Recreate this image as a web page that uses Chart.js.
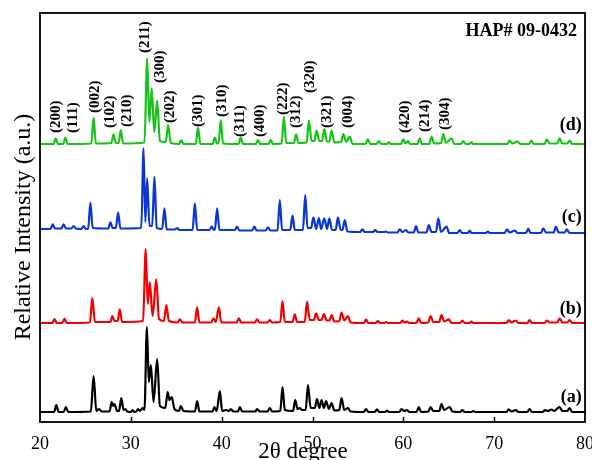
<!DOCTYPE html>
<html>
<head>
<meta charset="utf-8">
<script src="https://cdn.jsdelivr.net/npm/chart.js@4.4.4/dist/chart.umd.min.js"></script>
<style>
    html, body { margin: 0; padding: 0; background: #ffffff; }
    #wrap { width: 592px; height: 460px; position: relative; }
</style>
</head>
<body>
<div id="wrap"><canvas id="xrd"></canvas></div>
<script>
// 2θ (degree), relative counts
const traceA = [[20,10],[21.55,10],[21.8,17],[22.05,10],[22.6,10],[22.85,15],[23.1,10],[25.6,10.5],[25.9,46],[26.2,11],[26.5,13],[26.8,10.5],[27.65,10.5],[27.9,20],[28.05,16],[28.2,18],[28.5,11],[28.7,11],[28.95,24],[29.2,12],[29.4,13],[29.6,10.5],[30.0,10],[30.2,12],[30.4,10],[30.6,10.5],[30.8,13],[31.0,11],[31.3,14],[31.5,12],[31.77,95],[31.98,40],[32.2,57],[32.5,20],[32.9,63],[33.2,16],[33.8,14],[34.05,30],[34.25,22],[34.5,25],[34.8,13],[35.3,11],[35.5,16],[35.8,11],[37.05,10.5],[37.3,21],[37.55,10.5],[39.0,10.5],[39.2,15],[39.45,11],[39.8,31],[40.05,11],[40.5,12],[40.8,11],[41.0,13],[41.3,10.5],[41.8,10.5],[42.0,15],[42.25,10.5],[43.7,10.5],[43.9,13],[44.2,10.5],[45.05,10.5],[45.3,14],[45.55,10.5],[46.45,11],[46.7,35],[46.95,12],[47.85,11],[48.1,22],[48.35,13],[48.6,14],[48.85,12],[49.25,12],[49.5,37],[49.8,14],[50.25,14],[50.5,23],[50.75,14],[51.0,22],[51.25,14],[51.5,21],[51.8,13],[52.1,19],[52.4,11.5],[52.95,12],[53.2,24],[53.5,12],[53.9,14],[54.2,10.5],[55.65,10],[55.9,13],[56.15,10],[56.85,10],[57.1,12.7],[57.35,10],[58.0,10],[58.2,11.5],[58.4,10],[59.55,10],[59.8,13],[60.1,11],[60.4,12],[60.65,10],[61.45,10],[61.7,15],[61.95,10],[62.75,10.5],[63.0,15],[63.3,11],[63.95,11],[64.2,18],[64.5,12],[65.1,15],[65.4,10.5],[66.25,10],[66.5,12],[66.75,10],[67.5,10],[67.7,11],[67.9,10],[71.35,10],[71.6,12.7],[71.9,10.5],[72.4,12],[72.65,10],[73.65,10],[73.9,13],[74.15,10],[75.35,10],[75.6,12],[75.9,11],[76.3,12.5],[76.6,11],[77.2,15],[77.5,11],[78.05,11],[78.3,14],[78.6,10],[80,10]];

const traceB = [[20,99],[21.35,99],[21.6,103],[21.85,99],[22.45,99],[22.7,103.3],[22.95,99],[25.5,99.5],[25.76,124],[26.05,100],[27.75,100],[27.97,106],[28.2,101],[28.55,101],[28.78,112.7],[29.05,100],[31.35,101],[31.64,173],[31.86,118],[32.08,140],[32.4,106],[32.8,142.7],[33.1,103],[33.65,101],[33.9,117],[34.2,101],[35.15,99.5],[35.4,102.7],[35.65,99.5],[37.05,99.5],[37.3,114.7],[37.55,99.5],[38.85,99.5],[39.1,103.7],[39.35,100],[39.7,114.7],[39.95,99.5],[41.65,99.5],[41.9,103.7],[42.15,99.5],[43.65,99.5],[43.9,102.7],[44.15,99.5],[45.05,99.5],[45.3,102],[45.55,99.5],[46.45,100],[46.7,121],[46.95,100],[47.8,100],[48.05,107.7],[48.3,100],[49.15,100],[49.4,120.5],[49.7,102],[50.15,102],[50.4,108.7],[50.7,102],[51.0,102],[51.25,108],[51.55,101.5],[51.85,101.5],[52.1,107],[52.4,100.5],[52.95,101],[53.2,109.3],[53.5,101.5],[53.9,106],[54.2,99.5],[55.65,99],[55.9,102.7],[56.15,99],[56.95,99],[57.2,101],[57.45,99],[57.9,99],[58.1,100],[58.3,99],[59.65,99],[59.9,101.3],[60.15,99.5],[60.4,100.5],[60.65,99],[61.45,99],[61.7,103.7],[61.95,99],[62.75,99.5],[63.0,106],[63.3,100],[63.95,100],[64.2,107],[64.5,100.5],[65.0,102.7],[65.3,99],[66.25,99],[66.5,101.5],[66.75,99],[67.3,99],[67.5,100.5],[67.7,99],[71.35,99],[71.6,102],[71.9,99.5],[72.4,101.5],[72.65,99],[73.65,99],[73.9,102],[74.15,99],[75.55,99],[75.8,101.5],[76.1,99.5],[76.95,99.5],[77.2,103.7],[77.5,99.5],[78.05,99.5],[78.3,102],[78.6,99],[80,99]];

const traceC = [[20,193],[21.15,193],[21.4,197.7],[21.65,193.5],[22.35,193.5],[22.6,197.7],[22.85,193.5],[23.45,193.5],[23.7,196],[23.95,193.5],[24.55,193],[24.8,196],[25.05,193],[25.3,193],[25.55,219.3],[25.8,194],[27.5,193.5],[27.75,199.7],[28.0,194],[28.35,194],[28.6,209.3],[28.85,193.5],[31.15,194],[31.4,273.7],[31.6,200],[31.8,243.7],[32.05,196],[32.35,196],[32.6,245.3],[32.85,194],[33.45,193],[33.7,213.7],[33.95,192.5],[34.85,192.5],[35.1,194],[35.35,192],[36.8,192],[37.05,218.7],[37.3,192],[38.65,192],[38.9,195.3],[39.15,192],[39.25,192],[39.5,213.7],[39.75,192],[41.45,192],[41.7,195.3],[41.95,191.5],[43.35,191.5],[43.6,195.3],[43.85,191.5],[44.85,191.5],[45.1,194.7],[45.35,191.5],[46.15,191.5],[46.4,222],[46.65,192],[47.55,192],[47.8,206.3],[48.05,192],[48.95,192],[49.2,227],[49.45,194],[49.85,194],[50.1,204.7],[50.4,193],[50.7,204],[50.95,193],[51.3,203.7],[51.6,193],[51.85,203.7],[52.15,192],[52.55,192],[52.8,204.7],[53.1,192],[53.3,192],[53.55,202],[53.85,190.5],[55.25,190],[55.5,192.7],[55.75,190],[56.65,190],[56.9,192],[57.15,190],[57.9,190],[58.1,190.5],[58.3,189.5],[59.35,189.5],[59.6,192.7],[59.9,190],[60.3,192],[60.55,189.5],[61.15,189.5],[61.4,196],[61.65,189.5],[62.55,189.5],[62.8,197],[63.1,190],[63.6,190],[63.85,203.7],[64.15,190],[64.75,195.3],[65.05,189],[65.95,189],[66.2,192],[66.45,189],[67.1,189],[67.3,191.5],[67.5,189],[69.1,189],[69.3,190.5],[69.5,189],[71.15,189],[71.4,192.7],[71.7,189.5],[72.3,191.5],[72.55,189],[73.5,189],[73.75,193.3],[74.0,189],[75.15,189],[75.4,193.7],[75.7,189.5],[76.55,189.5],[76.8,195.3],[77.1,189.5],[77.75,189.5],[78.0,192.7],[78.3,189],[80,189]];

const traceD = [[20,278],[21.48,278],[21.73,283.7],[21.98,278],[22.55,278],[22.8,284.3],[23.05,278],[25.65,278.5],[25.9,304.3],[26.15,278.5],[27.85,279],[28.1,287.7],[28.35,279],[28.65,279],[28.9,292],[29.15,278.5],[31.5,279.5],[31.8,363.7],[32.03,300],[32.3,333.7],[32.58,290],[32.9,321.3],[33.2,281],[33.85,280],[34.1,297],[34.4,279],[35.3,278],[35.55,282],[35.8,278],[37.15,278],[37.4,294.3],[37.65,278],[39.0,278],[39.25,284.3],[39.5,278.5],[39.65,278.5],[39.9,302],[40.15,278.5],[41.85,278],[42.1,284.3],[42.35,278],[43.75,278],[44.0,282],[44.25,278],[45.15,278],[45.4,282],[45.65,278],[46.6,278.5],[46.85,305.3],[47.1,279],[47.95,279],[48.2,287.7],[48.45,279],[49.35,279.5],[49.6,301.3],[49.9,281],[50.2,281],[50.45,291.5],[50.75,281],[51.05,281],[51.3,293],[51.6,280.5],[51.85,280.5],[52.1,291.3],[52.4,279.5],[53.15,280],[53.4,288],[53.7,280],[54.1,285.3],[54.4,278],[55.85,278],[56.1,282.7],[56.35,278],[57.05,278],[57.3,281],[57.55,278],[58.2,278],[58.4,280],[58.6,278],[59.75,278],[60.0,282.7],[60.25,278.5],[60.5,281],[60.75,278],[61.55,278],[61.8,283.7],[62.05,278],[62.85,278],[63.1,285.3],[63.4,278.5],[64.15,279],[64.4,288],[64.7,279],[65.3,283.7],[65.6,278],[66.35,278],[66.6,281],[66.85,278],[67.3,278],[67.5,280],[67.7,278],[71.45,278],[71.7,281.3],[72.0,278.5],[72.6,280.5],[72.85,278],[73.85,278],[74.1,281.3],[74.35,278],[75.55,278],[75.8,282.7],[76.1,278.5],[76.95,278.5],[77.2,283.7],[77.5,278.5],[78.05,278.5],[78.3,281.3],[78.6,278],[80,278]];

// hkl reflections of HAP (JCPDS 09-0432), label anchor in data units
const hklText = ["(200)", "(111)", "(002)", "(102)", "(210)", "(211)", "(300)", "(202)", "(301)", "(310)", "(311)", "(400)", "(222)", "(312)", "(320)", "(321)", "(004)", "(420)", "(214)", "(304)"];
const hklAngle = [21.73, 23.7, 26.02, 27.68, 29.58, 31.53, 33.26, 34.28, 37.4, 40.09, 42.07, 44.2, 46.76, 48.24, 49.7, 51.6, 53.92, 60.17, 62.37, 64.57];
const hklLevel = [289, 289, 309, 294, 295, 369, 339, 299, 295, 305, 285, 285, 307, 294, 329, 294, 294, 289, 290, 292];

const sampleText = ["(a)", "(b)", "(c)", "(d)"];
const sampleLevel = [20.5, 108.5, 200.5, 292.5];
const sampleColor = ["#000000", "#f20000", "#0a36d4", "#17c417"];
const sampleTrace = [traceA, traceB, traceC, traceD];

const xTicks = [20, 30, 40, 50, 60, 70, 80];

const serif = "'Liberation Serif', 'Times New Roman', serif";

const annotate = {
    id: "annotate",
    afterDraw(chart) {
        const { ctx, chartArea, scales } = chart;
        const { left, right, top, bottom } = chartArea;
        ctx.save();

        // frame + inward ticks
        ctx.strokeStyle = "#000";
        ctx.lineWidth = 1.8;
        ctx.strokeRect(left, top, right - left, bottom - top);
        ctx.lineWidth = 1.5;
        xTicks.slice(1, -1).forEach(value => {
            const px = Math.round(scales.x.getPixelForValue(value)) + 0.5;
            ctx.beginPath();
            ctx.moveTo(px, bottom);
            ctx.lineTo(px, bottom - 5);
            ctx.stroke();
        });

        ctx.fillStyle = "#000";

        // hkl labels, rotated
        ctx.font = `bold 15px ${serif}`;
        ctx.textAlign = "left";
        ctx.textBaseline = "middle";
        hklText.forEach((text, i) => {
            const px = scales.x.getPixelForValue(hklAngle[i]);
            const py = scales.y.getPixelForValue(hklLevel[i]);
            ctx.save();
            ctx.translate(px, py);
            ctx.rotate(-Math.PI / 2);
            ctx.fillText(text, 0, 0);
            ctx.restore();
        });

        // sample tags
        ctx.font = `bold 18px ${serif}`;
        ctx.textAlign = "right";
        ctx.textBaseline = "alphabetic";
        sampleText.forEach((text, i) => {
            ctx.fillText(text, scales.x.getPixelForValue(79.65), scales.y.getPixelForValue(sampleLevel[i]));
        });

        ctx.font = `bold 18px ${serif}`;
        ctx.fillText("HAP# 09-0432", right - 8, top + 23);

        // axis titles
        ctx.font = `23px ${serif}`;
        ctx.textAlign = "center";
        ctx.fillText("2θ degree", 303, 458);

        ctx.font = `24px ${serif}`;
        ctx.save();
        ctx.translate(30, 227);
        ctx.rotate(-Math.PI / 2);
        ctx.fillText("Relative Intensity (a.u.)", 0, 0);
        ctx.restore();

        ctx.restore();
    }
};

new Chart(document.getElementById("xrd"), {
    type: "line",
    data: {
        datasets: sampleTrace.map((trace, i) => ({
            label: sampleText[i],
            data: trace.map(([x, y]) => ({ x, y })),
            borderColor: sampleColor[i],
            borderWidth: 2.2,
            pointRadius: 0,
            cubicInterpolationMode: "monotone",
            borderJoinStyle: "round",
            fill: false
        }))
    },
    options: {
        responsive: true,
        maintainAspectRatio: false,
        animation: false,
        layout: {
            padding: { left: 40, right: 7, top: 13, bottom: 0 }
        },
        plugins: {
            legend: { display: false },
            tooltip: { enabled: false }
        },
        scales: {
            x: {
                type: "linear",
                min: 20,
                max: 80,
                afterBuildTicks(scale) {
                    scale.ticks = xTicks.map(value => ({ value }));
                },
                afterFit(scale) {
                    scale.height = 38;
                    scale.paddingLeft = 0;
                    scale.paddingRight = 0;
                },
                grid: { display: false },
                border: { display: false },
                ticks: {
                    color: "#000",
                    padding: 3,
                    maxRotation: 0,
                    autoSkip: false,
                    font: { family: serif, size: 18 }
                }
            },
            y: {
                display: false,
                min: 0,
                max: 409
            }
        }
    },
    plugins: [annotate]
});
</script>
</body>
</html>
